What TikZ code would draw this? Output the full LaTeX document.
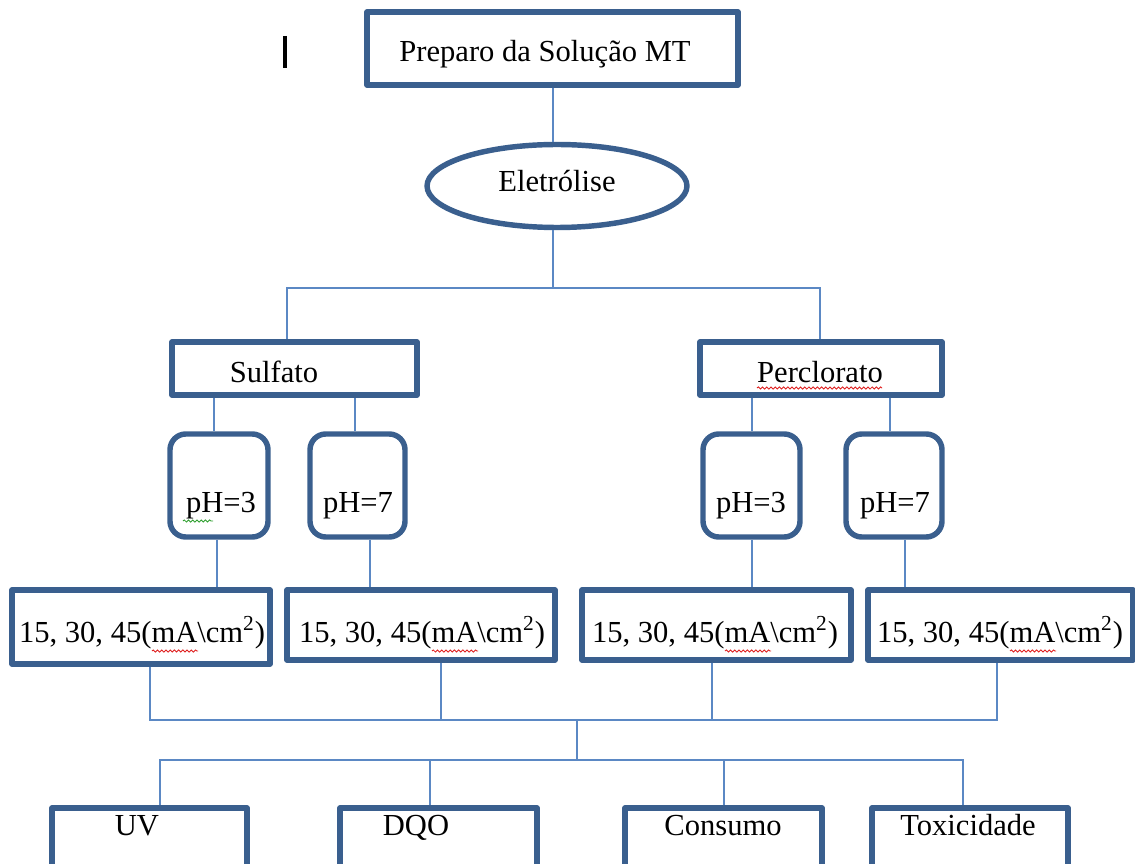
\documentclass[tikz,border=0pt]{standalone}
\usepackage{fontspec}
\setmainfont{Liberation Serif}
\usetikzlibrary{fit,shapes.geometric,decorations.pathmorphing}
\definecolor{boxblue}{HTML}{3A5F8E}
\definecolor{linkblue}{HTML}{5B88C4}
\definecolor{spellred}{HTML}{E02020}
\definecolor{spellgreen}{HTML}{30A030}
\begin{document}
\begin{tikzpicture}[x=0.02cm,y=-0.02cm,
  box/.style={draw=boxblue, line width=3.1pt, line join=round, inner sep=0pt, fill=white},
  phbox/.style={box, rounded corners=9pt},
  link/.style={draw=linkblue, line width=0.9pt},
  lbl/.style={font=\fontsize{17.4}{20}\selectfont, inner sep=0pt, text=black, anchor=base},
  squig/.style={decorate, decoration={snake, segment length=2.4pt, amplitude=0.6pt}, line width=0.5pt}]
\useasboundingbox (0,0) rectangle (1135,864);
\clip (0,0) rectangle (1135,864);

% cursor mark
\draw[line width=2.2pt, black] (285,36) -- (285,68);

% boxes
\node[box, fit={(367,12) (738,85)}] (top) {};
\node[box, ellipse, minimum width=5.2cm, minimum height=1.66cm] (el) at (557,186) {};
\node[box, fit={(172,342) (417,395)}] (sulf) {};
\node[box, fit={(700,342) (942,395)}] (perc) {};
\node[phbox, fit={(170,434) (268,537)}] (s3) {};
\node[phbox, fit={(310,434) (405,537)}] (s7) {};
\node[phbox, fit={(703,434) (800,537)}] (p3) {};
\node[phbox, fit={(846,434) (942,537)}] (p7) {};
\node[box, fit={(12,590) (270,664)}] (c1) {};
\node[box, fit={(287,590) (555,660)}] (c2) {};
\node[box, fit={(582,590) (851,660)}] (c3) {};
\node[box, fit={(868,590) (1133,660)}] (c4) {};
\node[box, fit={(52,808) (247,890)}] (uv) {};
\node[box, fit={(340,808) (537,890)}] (dqo) {};
\node[box, fit={(625,808) (822,890)}] (cons) {};
\node[box, fit={(872,808) (1068,890)}] (tox) {};

% texts
\node[lbl] (ttop) at (545,62) {Preparo da Solução MT};
\node[lbl] (tel) at (557,192) {Eletrólise};
\node[lbl] (tsulf) at (274,383) {Sulfato};
\node[lbl] (tperc) at (820,383) {Perclorato};
\node[lbl] (ts3) at (221,512) {pH=3};
\node[lbl] (ts7) at (358,512) {pH=7};
\node[lbl] (tp3) at (751,512) {pH=3};
\node[lbl] (tp7) at (895,512) {pH=7};
\node[lbl] (tc1) at (142,642) {15, 30, 45(mA\textbackslash cm\textsuperscript{2})};
\node[lbl] (tc2) at (422,642) {15, 30, 45(mA\textbackslash cm\textsuperscript{2})};
\node[lbl] (tc3) at (715,642) {15, 30, 45(mA\textbackslash cm\textsuperscript{2})};
\node[lbl] (tc4) at (1000,642) {15, 30, 45(mA\textbackslash cm\textsuperscript{2})};
\node[lbl] (tuv) at (137,835) {UV};
\node[lbl] (tdqo) at (416,835) {DQO};
\node[lbl] (tcons) at (723,835) {Consumo};
\node[lbl] (ttox) at (968,835) {Toxicidade};

% spell-check underlines
\draw[squig, spellgreen] (183,521) -- (213,521);
\draw[squig, spellred] (757,388) -- (882,388);
\draw[squig, spellred] (152,651) -- (198,651);
\draw[squig, spellred] (432,651) -- (478,651);
\draw[squig, spellred] (725,651) -- (771,651);
\draw[squig, spellred] (1010,651) -- (1056,651);

% connectors
\coordinate (j0) at (553,288);
\coordinate (j1) at (577,720);
\coordinate (j2) at (577,760);
\draw[link] (top.south -| 553,0) -- (el.north -| 553,0);
\draw[link] (el.south -| 553,0) -- (j0);
\draw[link] (sulf.north -| 287,0) |- (j0) -| (perc.north -| 820,0);
\draw[link] (sulf.south -| 214,0) -- (s3.north -| 214,0);
\draw[link] (sulf.south -| 355,0) -- (s7.north -| 355,0);
\draw[link] (perc.south -| 752,0) -- (p3.north -| 752,0);
\draw[link] (perc.south -| 890,0) -- (p7.north -| 890,0);
\draw[link] (s3.south -| 217,0) -- (c1.north -| 217,0);
\draw[link] (s7.south -| 370,0) -- (c2.north -| 370,0);
\draw[link] (p3.south -| 752,0) -- (c3.north -| 752,0);
\draw[link] (p7.south -| 905,0) -- (c4.north -| 905,0);
\draw[link] (c1.south -| 150,0) |- (j1) -| (c4.south -| 997,0);
\draw[link] (c2.south -| 441,0) -- (j1 -| 441,0);
\draw[link] (c3.south -| 712,0) -- (j1 -| 712,0);
\draw[link] (j1) -- (j2);
\draw[link] (uv.north -| 160,0) |- (j2) -| (tox.north -| 963,0);
\draw[link] (dqo.north -| 430,0) -- (j2 -| 430,0);
\draw[link] (cons.north -| 724,0) -- (j2 -| 724,0);
\end{tikzpicture}
\end{document}
